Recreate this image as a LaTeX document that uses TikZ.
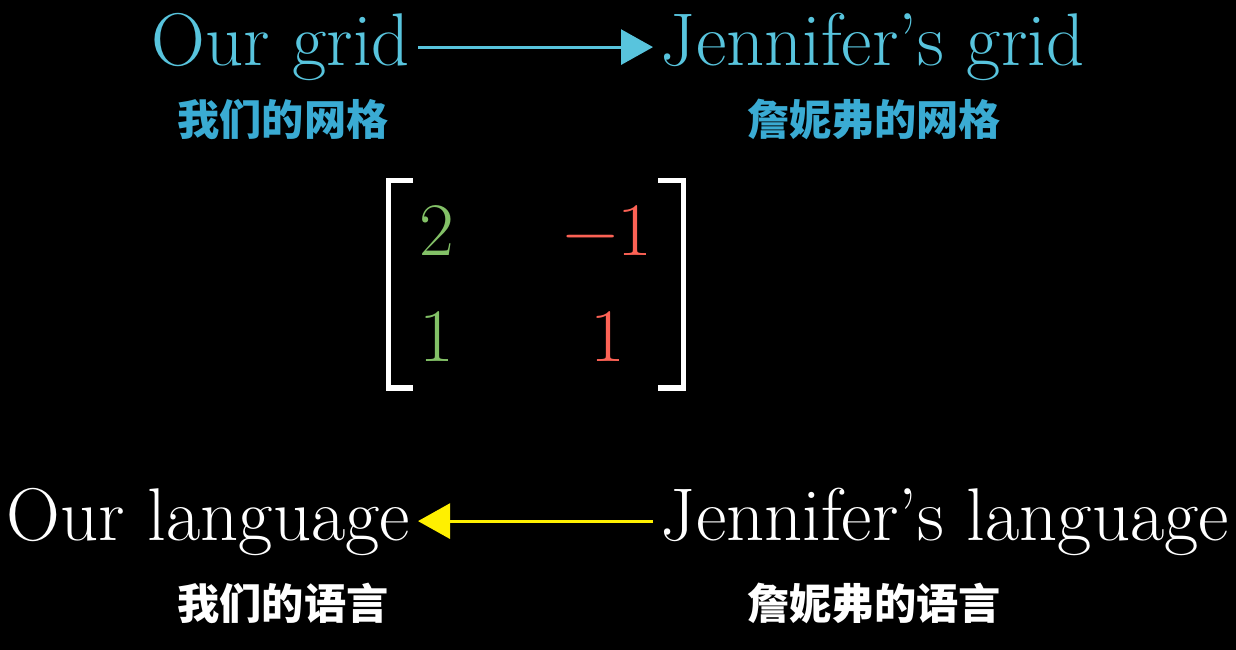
\documentclass[tikz,border=0pt]{standalone}
\usepackage{fontspec}
\usepackage{xcolor}
\usepackage{tikz}
\usetikzlibrary{positioning,arrows.meta}
\newfontfamily\cjk{Noto Sans CJK SC}

\definecolor{gridblue}{HTML}{58C4DD}
\definecolor{zhblue}{HTML}{3AABD3}
\definecolor{mgreen}{HTML}{83C167}
\definecolor{mred}{HTML}{FC6255}
\definecolor{myellow}{HTML}{FFF000}

\begin{document}
\begin{tikzpicture}[
    word/.style={font=\fontsize{42.5}{50}\selectfont, text height=30pt, text depth=8.5pt, inner ysep=0pt, inner xsep=0.15cm},
    zh/.style={font=\cjk\bfseries\fontsize{24}{28}\selectfont, text height=21pt, text depth=3pt, inner sep=0pt},
    entry/.style={font=\fontsize{43}{50}\selectfont, anchor=base, inner sep=0pt},
    bracket/.style={white, line width=0.1cm, line join=miter}]

    \useasboundingbox (0,0) rectangle (24.72,-13);
    \fill[black] (0,0) rectangle (24.72,-13);

    \node[word, gridblue, anchor=base east] (OG) at (8.36,-1.32) {Our grid};
    \node[word, gridblue, right=4.7cm of OG] (JG) {Jennifer's grid};
    \node[zh, zhblue] (OGzh) at (5.66,-2.4) {我们的网格};
    \node[zh, zhblue] (JGzh) at (17.48,-2.4) {詹妮弗的网格};

    \draw[gridblue, line width=0.06cm, -{Triangle[length=0.64cm, width=0.7cm]}] (OG) -- (JG);

    % change of basis matrix
    \node[entry, mgreen] (m11) at (8.74,-5.12) {2};
    \node[entry, mred] (m12) at (12.16,-5.12) {−1};
    \node[entry, mgreen] (m21) at (8.74,-7.24) {1};
    \node[entry, mred] (m22) at (12.16,-7.24) {1};
    \draw[bracket] (8.26,-3.62) -- (7.76,-3.62) -- (7.76,-7.76) -- (8.26,-7.76);
    \draw[bracket] (13.16,-3.62) -- (13.66,-3.62) -- (13.66,-7.76) -- (13.16,-7.76);

    \node[word, white, anchor=base east] (OL) at (8.36,-10.8) {Our language};
    \node[word, white, right=4.7cm of OL] (JL) {Jennifer's language};
    \node[zh, white, below=8.82cm of OGzh] (OLzh) {我们的语言};
    \node[zh, white, below=8.82cm of JGzh] (JLzh) {詹妮弗的语言};

    \draw[myellow, line width=0.06cm, -{Triangle[length=0.64cm, width=0.7cm]}] (JL) -- (OL);
\end{tikzpicture}
\end{document}
